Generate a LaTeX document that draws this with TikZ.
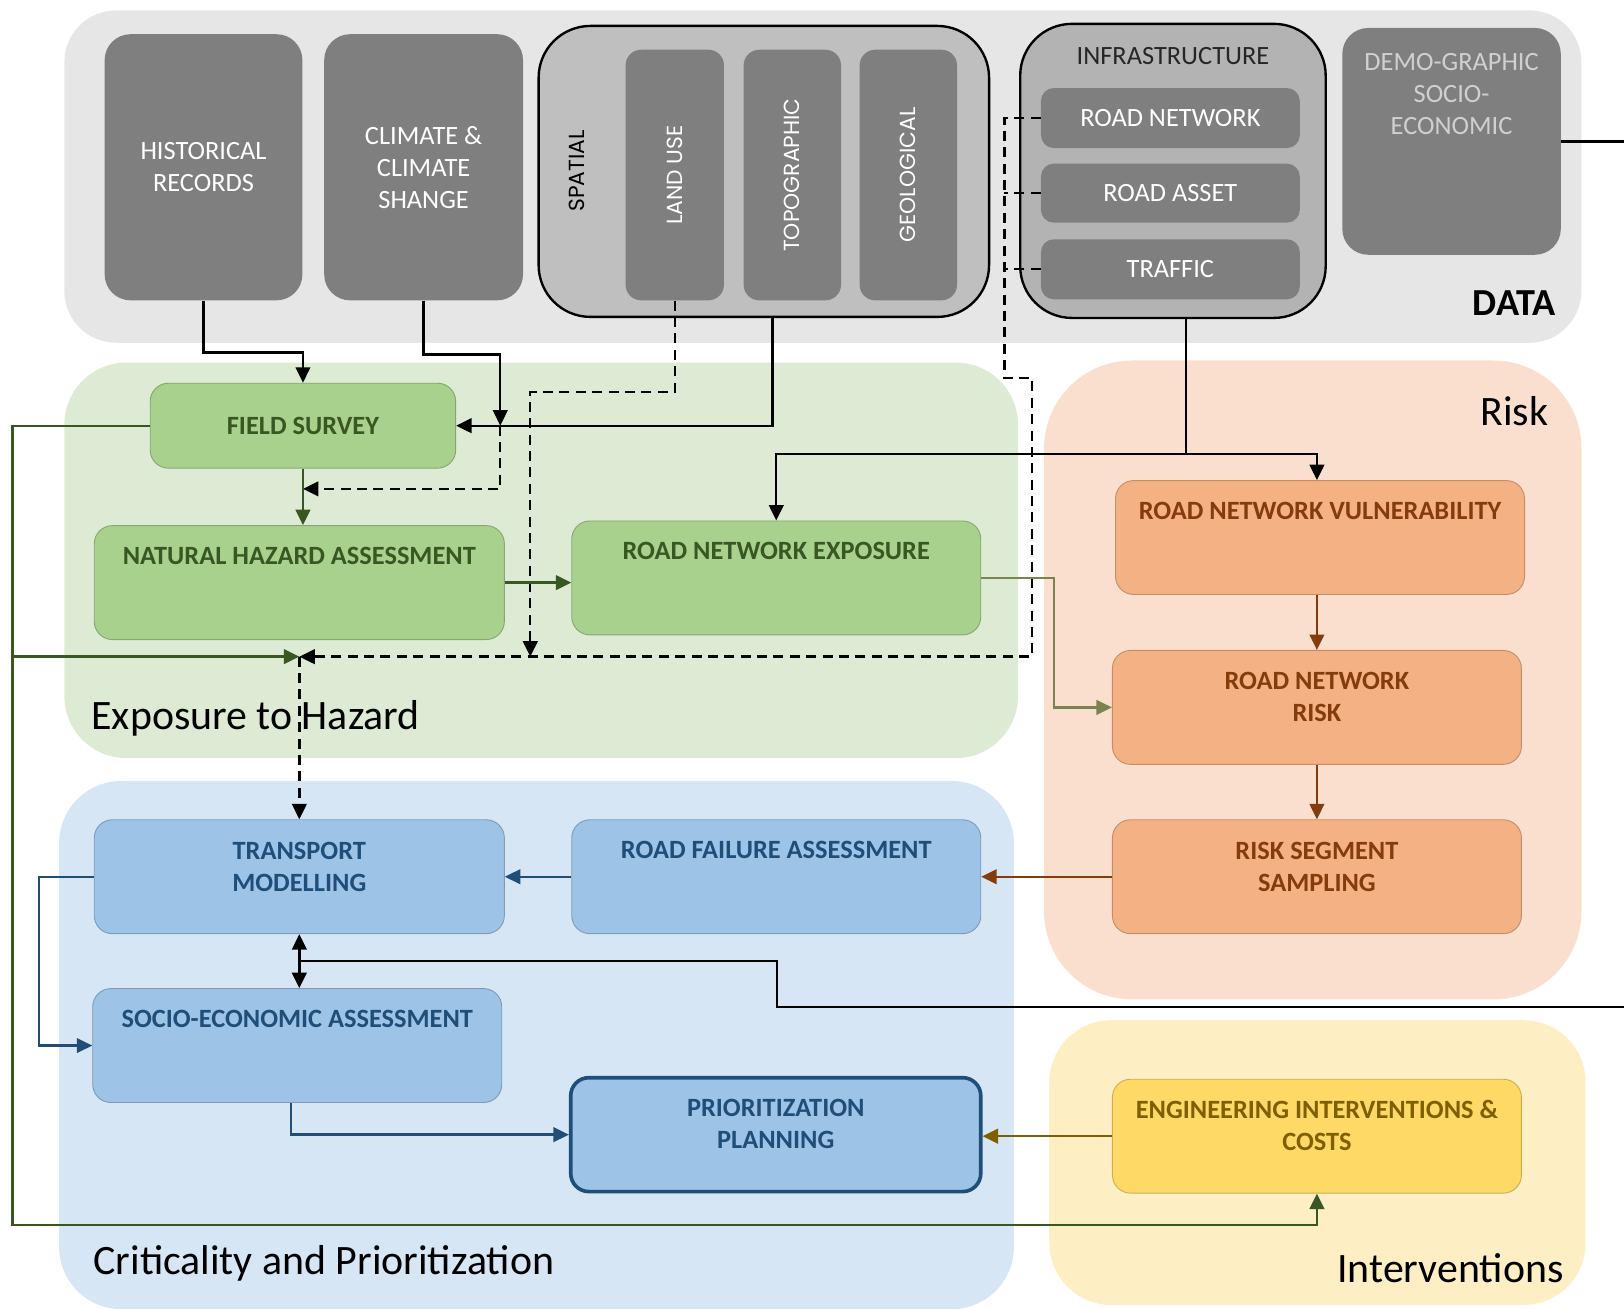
\documentclass[tikz,border=0pt]{standalone}
\usepackage{fontspec}
\usepackage{graphicx}
\setmainfont{Carlito}
\newfontfamily\geofont{Poppins}
\usetikzlibrary{arrows.meta}

\definecolor{datagray}{HTML}{E7E6E6}
\definecolor{boxgray}{HTML}{7F7F7F}
\definecolor{spatgray}{HTML}{BFBFBF}
\definecolor{infragray}{HTML}{B3B3B3}
\definecolor{demotext}{HTML}{D0D0D0}
\definecolor{hazpanel}{HTML}{DDEBD4}
\definecolor{hazfill}{HTML}{A9D18E}
\definecolor{haztext}{HTML}{385723}
\definecolor{expoline}{HTML}{7B8450}
\definecolor{riskpanel}{HTML}{FADFCF}
\definecolor{riskfill}{HTML}{F4B183}
\definecolor{risktext}{HTML}{843C0C}
\definecolor{critpanel}{HTML}{D6E6F5}
\definecolor{critfill}{HTML}{9DC3E6}
\definecolor{crittext}{HTML}{1F4E79}
\definecolor{intpanel}{HTML}{FDEEC4}
\definecolor{intfill}{HTML}{FFD966}
\definecolor{inttext}{HTML}{7F6000}

\begin{document}
\begin{tikzpicture}[x=0.02cm,y=-0.02cm,
	every node/.style={align=center,inner sep=0pt,font=\fontsize{14.5}{17.6}\selectfont}]
	\tikzstyle{panel} = [rounded corners=1.2cm]
	\tikzstyle{title} = [font=\fontsize{23}{27}\selectfont]
	\tikzstyle{databox} = [fill=boxgray,text=white,rounded corners=0.5cm]
	\tikzstyle{layer} = [fill=boxgray,text=white,rounded corners=0.3cm,minimum width=1.88cm,minimum height=4.84cm,font=\geofont\fontsize{12}{14}\selectfont]
	\tikzstyle{group} = [draw=black,line width=1.3pt,rounded corners=1cm]
	\tikzstyle{infobox} = [fill=boxgray,text=white,rounded corners=0.25cm,minimum width=5cm,minimum height=1.16cm]
	\tikzstyle{stepbox} = [rounded corners=0.35cm,line width=0.5pt,minimum width=7.9cm,minimum height=2.2cm,font=\bfseries\fontsize{14.5}{17.6}\selectfont]
	\tikzstyle{hazstep} = [stepbox,fill=hazfill,draw=hazfill!80!black,text=haztext]
	\tikzstyle{riskstep} = [stepbox,fill=riskfill,draw=riskfill!80!black,text=risktext]
	\tikzstyle{critstep} = [stepbox,fill=critfill,draw=critfill!80!black,text=crittext]
	\tikzstyle{intstep} = [stepbox,fill=intfill,draw=intfill!80!black,text=inttext]
	\tikzstyle{toptext} = [text height=0.74cm,text depth=1.44cm]
	\tikzstyle{twolines} = [text depth=0.4cm]
	\tikzstyle{conn} = [line width=1.3pt]
	\tikzstyle{arr} = [conn,-{Triangle[length=8.5pt,width=8pt]}]
	\tikzstyle{dashes} = [dash pattern=on 5.5pt off 3.5pt]
	\tikzstyle{dasharr} = [arr,dashes]
	\tikzstyle{garr} = [arr,color=haztext]
	\tikzstyle{oarr} = [arr,color=expoline]
	\tikzstyle{barr} = [arr,color=risktext]
	\tikzstyle{blarr} = [arr,color=crittext]
	\tikzstyle{yarr} = [arr,color=inttext]

	\useasboundingbox (0,0) rectangle (1568,1264);

	% background panels
	\node (datapanel) [panel,fill=datagray,rounded corners=1cm,minimum width=29.3cm,minimum height=6.42cm] at (794.5,170.5) {};
	\node (hazpanel) [panel,fill=hazpanel,minimum width=18.42cm,minimum height=7.64cm] at (522.5,541) {};
	\node (riskpanel) [panel,fill=riskpanel,rounded corners=1.7cm,minimum width=10.38cm,minimum height=12.34cm] at (1267.5,656.5) {};
	\node (critpanel) [panel,fill=critpanel,minimum width=18.44cm,minimum height=10.2cm] at (518,1009) {};
	\node (intpanel) [panel,fill=intpanel,minimum width=10.36cm,minimum height=5.5cm] at (1272,1122.5) {};

	\node (datalabel) [font=\bfseries\fontsize{21}{25}\selectfont,anchor=base east] at (1502,305) {DATA};
	\node (hazlabel) [title,anchor=base west] at (88,704) {Exposure to Hazard};
	\node (risklabel) [title,anchor=base east] at (1495,411) {Risk};
	\node (critlabel) [title,anchor=base west] at (90,1231) {Criticality and Prioritization};
	\node (intlabel) [title,anchor=base east] at (1510,1238) {Interventions};

	% data sources
	\node (hist) [databox,minimum width=3.82cm,minimum height=5.14cm] at (196.5,161.5) {HISTORICAL\\RECORDS};
	\node (clim) [databox,minimum width=3.84cm,minimum height=5.14cm] at (409,161.5) {CLIMATE \&\\CLIMATE\\SHANGE};
	\node (spatial) [group,fill=spatgray,minimum width=8.7cm,minimum height=5.62cm] at (737.5,165.5) {};
	\node (spatlabel) [font=\geofont\fontsize{12}{14}\selectfont] at (557,165) {\rotatebox{90}{SPATIAL}};
	\node (landuse) [layer,minimum width=1.9cm] at (651.5,169) {\rotatebox{90}{LAND USE}};
	\node (topo) [layer] at (765,169) {\rotatebox{90}{TOPOGRAPHIC}};
	\node (geo) [layer] at (877,169) {\rotatebox{90}{GEOLOGICAL}};
	\node (infra) [group,fill=infragray,text=black!85,minimum width=5.9cm,text height=0.78cm,text depth=4.9cm] at (1132.5,165) {INFRASTRUCTURE};
	\node (roadnet) [infobox] at (1130,114) {ROAD NETWORK};
	\node (roadasset) [infobox,minimum height=1.14cm] at (1130,186.5) {ROAD ASSET};
	\node (traffic) [infobox] at (1130,260) {TRAFFIC};
	\node (demo) [databox,text=demotext,minimum width=4.22cm,text height=2.06cm,text depth=2.32cm] at (1401.5,136.5) {DEMO-GRAPHIC\\SOCIO-\\ECONOMIC};

	% exposure to hazard
	\node (field) [hazstep,minimum width=5.9cm,minimum height=1.64cm] at (292.5,411) {FIELD SURVEY};
	\node (nha) [hazstep,toptext,minimum width=7.92cm] at (289,562.5) {NATURAL HAZARD ASSESSMENT};
	\node (rne) [hazstep,toptext] at (749.5,558) {ROAD NETWORK EXPOSURE};

	% risk
	\node (vuln) [riskstep,toptext] at (1274.5,519) {ROAD NETWORK VULNERABILITY};
	\node (risk) [riskstep,twolines] at (1271.5,683) {ROAD NETWORK\\RISK};
	\node (seg) [riskstep,twolines] at (1271.5,846.5) {RISK SEGMENT\\SAMPLING};

	% criticality and prioritization
	\node (transport) [critstep,twolines,minimum width=7.92cm] at (289,846.5) {TRANSPORT\\MODELLING};
	\node (failure) [critstep,toptext] at (749.5,846.5) {ROAD FAILURE ASSESSMENT};
	\node (socio) [critstep,toptext] at (287,1009.5) {SOCIO-ECONOMIC ASSESSMENT};
	\node (prior) [critstep,twolines,draw=crittext,line width=2pt,minimum width=7.92cm] at (749,1095.5) {PRIORITIZATION\\PLANNING};

	% interventions
	\node (eng) [intstep,twolines] at (1271.5,1097) {ENGINEERING INTERVENTIONS \&\\COSTS};

	% junctions
	\coordinate (cj) at (483,411);
	\coordinate (fj) at (292.5,472);
	\coordinate (lj) at (512,634);
	\coordinate (tj) at (289,634);
	\coordinate (gbus) at (12,1183);
	\coordinate (sj) at (289,928);
	\coordinate (demobend) at (750,972);

	\draw[arr] (hist.south) -- ++(0,50) -| (field.north);
	\draw[arr] (clim.south) -- ++(0,52) -| (cj);
	\draw[arr] ([xshift=0.17cm]spatial.south) |- (field.east);
	\draw[dasharr] (cj) |- (fj);
	\draw[dasharr] (landuse.south) -- ++(0,88) -| (lj);
	\draw[dasharr] (roadnet.west) -- ++(-35,0) |- ++(27,251) |- (tj);
	\draw[conn,dashes] (roadasset.west) -- ++(-35,0);
	\draw[conn,dashes] (traffic.west) -- ++(-35,0);
	\draw[dasharr] (tj) -- (transport.north);
	\draw[arr] ([xshift=0.25cm]infra.south) -- ++(0,130) -| (rne.north);
	\draw[arr] ([xshift=0.25cm]infra.south) -- ++(0,130) -| ([xshift=-0.06cm]vuln.north);
	\draw[garr] (field.south) -- (field.south |- nha.north);
	\draw[garr] (field.west) -| (gbus) -| (eng.south);
	\draw[garr] (gbus |- tj) -- (tj);
	\draw[garr] (nha.east) -- (nha.east -| rne.west);
	\draw[oarr] (rne.east) -- ++(70,0) |- (risk.west);
	\draw[barr] (risk.north |- vuln.south) -- (risk.north);
	\draw[barr] (risk.south) -- (seg.north);
	\draw[barr] (seg.west) -- (failure.east);
	\draw[blarr] (failure.west) -- (transport.east);
	\draw[blarr] (transport.west) -- ++(-53,0) |- (socio.west);
	\draw[blarr] ([xshift=-0.12cm]socio.south) |- (prior.west);
	\draw[yarr] (eng.west) -- (eng.west -| prior.east);
	\draw[conn,{Triangle[length=8.5pt,width=8pt]}-{Triangle[length=8.5pt,width=8pt]}] (transport.south) -- (transport.south |- socio.north);
	\draw[conn] (demo.east) -- ++(100,0) |- (demobend) |- (sj);
\end{tikzpicture}
\end{document}
